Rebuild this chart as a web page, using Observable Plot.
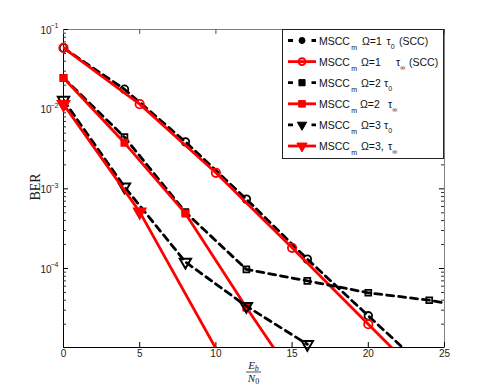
<!DOCTYPE html>
<html><head><meta charset="utf-8">
<script src="https://cdn.jsdelivr.net/npm/d3@7"></script>
<script src="https://cdn.jsdelivr.net/npm/@observablehq/plot@0.6"></script>
<style>body{margin:0;background:#fff} #chart{position:relative;width:491px;height:391px}</style>
</head><body><div id="chart"></div>
<script>
// Eb/N0 (dB) and BER values
const x_o1_t0 = [0, 4, 8, 12, 16, 20, 24];
const ber_o1_t0 = [0.0587, 0.0178, 0.00389, 7.43e-4, 1.31e-4, 2.55e-5, 5.0e-6];
const x_o1_tinf = [0, 5, 10, 15, 20, 25];
const ber_o1_tinf = [0.0587, 0.01156, 1.59e-3, 1.82e-4, 2.0e-5, 2.2e-6];
const x_o2_t0 = [0, 4, 8, 12, 16, 20, 24, 28];
const ber_o2_t0 = [0.0247, 4.46e-3, 5.1e-4, 9.75e-5, 7.0e-5, 4.96e-5, 4.0e-5, 2.95e-5];
const x_o2_tinf = [0, 4, 8, 12, 16];
const ber_o2_tinf = [0.0247, 3.78e-3, 4.91e-4, 3.25e-5, 2.4e-6];
const x_o3_t0 = [0, 4, 8, 12, 16];
const ber_o3_t0 = [0.0130, 1.06e-3, 1.21e-4, 3.37e-5, 1.12e-5];
const x_o3_tinf = [0, 5, 10];
const ber_o3_tinf = [0.0115, 5.14e-4, 9.9e-6];

const xTicks = [0, 5, 10, 15, 20, 25];
const yMajor = [1e-1, 1e-2, 1e-3, 1e-4];
const yExp = ["\u22121", "\u22122", "\u22123", "\u22124"];
const yMinor = [];
for (const e of [-5, -4, -3, -2]) for (let k = 2; k <= 9; k++) yMinor.push(k * Math.pow(10, e));

// legend labels: MSCC_m <omega> tau_<sub> <post>
const legendOmega = ["\u03A9=1", "\u03A9=1", "\u03A9=2", "\u03A9=2", "\u03A9=3", "\u03A9=3,"];
const legendSub = ["0", "\u221E", "0", "\u221E", "0", "\u221E"];
const legendPost = ["(SCC)", "(SCC)", "", "", "", ""];
// horizontal text layout of legend rows (omega x, tau x, post x)
const legendLayout = [[362, 386.5, 399], [361, 396, 409], [361, 384, 0], [360, 388, 0], [361, 384, 0], [361, 388, 0]];

const W = 491, H = 391, mL = 63, mR = 47, mT = 29, mB = 44;
const fw = W - mL - mR, fh = H - mT - mB;
const ymin = 1.02e-5;

const triDown = {draw(ctx, size) {
  const y = -Math.sqrt(size / (Math.sqrt(3) * 3));
  ctx.moveTo(0, -y * 2);
  ctx.lineTo(-Math.sqrt(3) * y, y);
  ctx.lineTo(Math.sqrt(3) * y, y);
  ctx.closePath();
}};

const seriesDefs = [
  {xs: x_o1_t0, ys: ber_o1_t0, color: "black", dashed: true, symbol: "circle", fill: "none", r: 3.8, sw: 1.8},
  {xs: x_o1_tinf, ys: ber_o1_tinf, color: "#ff0000", dashed: false, symbol: "circle", fill: "none", r: 4.2, sw: 1.8},
  {xs: x_o2_t0, ys: ber_o2_t0, color: "black", dashed: true, symbol: "square", fill: "none", r: 3.3, sw: 1.8},
  {xs: x_o2_tinf, ys: ber_o2_tinf, color: "#ff0000", dashed: false, symbol: "square", fill: "#ff0000", r: 3.6, sw: 1.6},
  {xs: x_o3_t0, ys: ber_o3_t0, color: "black", dashed: true, symbol: triDown, fill: "none", r: 4.2, sw: 2},
  {xs: x_o3_tinf, ys: ber_o3_tinf, color: "#ff0000", dashed: false, symbol: triDown, fill: "#ff0000", r: 4.5, sw: 1.6}
];

const seriesMarks = seriesDefs.flatMap(s => {
  const data = s.xs.map((x, i) => ({x, y: s.ys[i]}));
  return [
    Plot.line(data, {x: "x", y: "y", stroke: s.color, strokeWidth: 2.8, strokeDasharray: s.dashed ? "7,5" : null, clip: true}),
    Plot.dot(data.filter(d => d.y >= ymin && d.x <= 25), {x: "x", y: "y", symbol: s.symbol, r: s.r, stroke: s.color, fill: s.fill, strokeWidth: s.sw})
  ];
});

const plot = Plot.plot({
  width: W, height: H, marginLeft: mL, marginRight: mR, marginTop: mT, marginBottom: mB,
  x: {domain: [0, 25], axis: null},
  y: {type: "log", domain: [ymin, 0.1], axis: null},
  style: {fontFamily: "'Liberation Sans', Arial, sans-serif", fontSize: "10px", background: "white", overflow: "visible"},
  marks: [
    Plot.frame({stroke: "#808080"}),
    Plot.ruleX([0], {stroke: "black"}),
    Plot.ruleY([ymin], {stroke: "black"}),
    // y ticks left and right
    Plot.tickY(yMajor, {y: d => d, insetRight: fw - 5, stroke: "black"}),
    Plot.tickY(yMajor, {y: d => d, insetLeft: fw - 5, stroke: "black"}),
    Plot.tickY(yMinor.filter(d => d >= ymin), {y: d => d, insetRight: fw - 3, stroke: "#333"}),
    Plot.tickY(yMinor.filter(d => d >= ymin), {y: d => d, insetLeft: fw - 3, stroke: "#333"}),
    // x ticks bottom and top
    Plot.tickX(xTicks, {x: d => d, insetTop: fh - 5, stroke: "black"}),
    Plot.tickX(xTicks, {x: d => d, insetBottom: fh - 5, stroke: "#555"}),
    // tick labels
    Plot.text(xTicks, {x: d => d, frameAnchor: "bottom", dy: 9, text: d => String(d), fill: "#222", fontSize: 10}),
    Plot.text(yMajor, {y: d => d, frameAnchor: "left", dx: -12, dy: 1, textAnchor: "end", text: () => "10", fill: "#222", fontSize: 10}),
    Plot.text(yMajor, {y: d => d, frameAnchor: "left", dx: -5, dy: -3.5, textAnchor: "end", text: (d, i) => yExp[i], fill: "#222", fontSize: 7}),
    ...seriesMarks
  ]
});

const svg = d3.select(plot);
// axis labels
svg.append("text").attr("transform", "translate(40,187) rotate(-90)").attr("text-anchor", "middle")
  .attr("font-family", "'Liberation Serif', serif").attr("font-size", 14).attr("fill", "#222").text("BER");
const xl = svg.append("g").attr("font-family", "'Liberation Serif', serif").attr("font-style", "italic").attr("fill", "#222");
const num = xl.append("text").attr("x", 253.5).attr("y", 369).attr("text-anchor", "middle").attr("font-size", 11);
num.append("tspan").text("E");
num.append("tspan").attr("dy", 2).attr("font-size", 8).text("b");
xl.append("line").attr("x1", 246).attr("x2", 261).attr("y1", 372).attr("y2", 372).attr("stroke", "#222").attr("stroke-width", 0.8);
const den = xl.append("text").attr("x", 253.5).attr("y", 382).attr("text-anchor", "middle").attr("font-size", 11);
den.append("tspan").text("N");
den.append("tspan").attr("dy", 2).attr("font-size", 8).attr("font-style", "normal").text("0");

// legend
const lg = svg.append("g");
lg.append("rect").attr("x", 282.5).attr("y", 29.5).attr("width", 161).attr("height", 129)
  .attr("fill", "white").attr("stroke", "#222");
const sym = {circle: d3.symbolCircle, square: d3.symbolSquare};
legendOmega.forEach((om, i) => {
  const s = seriesDefs[i];
  const [xo, xt, xp] = legendLayout[i];
  const y = 40.5 + i * 21.1;
  lg.append("line").attr("x1", 288).attr("x2", 316).attr("y1", y).attr("y2", y)
    .attr("stroke", s.color).attr("stroke-width", 2.8)
    .attr("stroke-dasharray", s.dashed ? "5,18.5,5" : null);
  const isRed = !s.dashed;
  const symType = typeof s.symbol === "string" ? sym[s.symbol] : s.symbol;
  const size = isRed ? (s.symbol === "circle" ? Math.PI * 12 : 45) : (s.symbol === "circle" ? Math.PI * 9 : 38);
  lg.append("path").attr("transform", `translate(302,${y})`).attr("d", d3.symbol(symType, size)())
    .attr("fill", (isRed && s.symbol === "circle") ? "none" : s.color)
    .attr("stroke", s.color).attr("stroke-width", isRed && s.symbol === "circle" ? 2 : 1);
  const t = lg.append("text").attr("y", y + 4).attr("font-size", 10.5).attr("fill", "#111")
    .attr("text-anchor", "start")
    .attr("font-family", "'Liberation Sans', Arial, sans-serif");
  t.append("tspan").attr("x", 319).text("MSCC");
  t.append("tspan").attr("x", 351.3).attr("dy", 5).attr("font-size", 7).text("m");
  t.append("tspan").attr("x", xo).attr("dy", -5).text(om);
  t.append("tspan").attr("x", xt).text("\u03C4");
  t.append("tspan").attr("dy", 4).attr("font-size", 7).text(legendSub[i]);
  if (legendPost[i]) t.append("tspan").attr("x", xp).attr("dy", -4).text(legendPost[i]);
});

document.getElementById("chart").appendChild(plot);
</script>
</body></html>
